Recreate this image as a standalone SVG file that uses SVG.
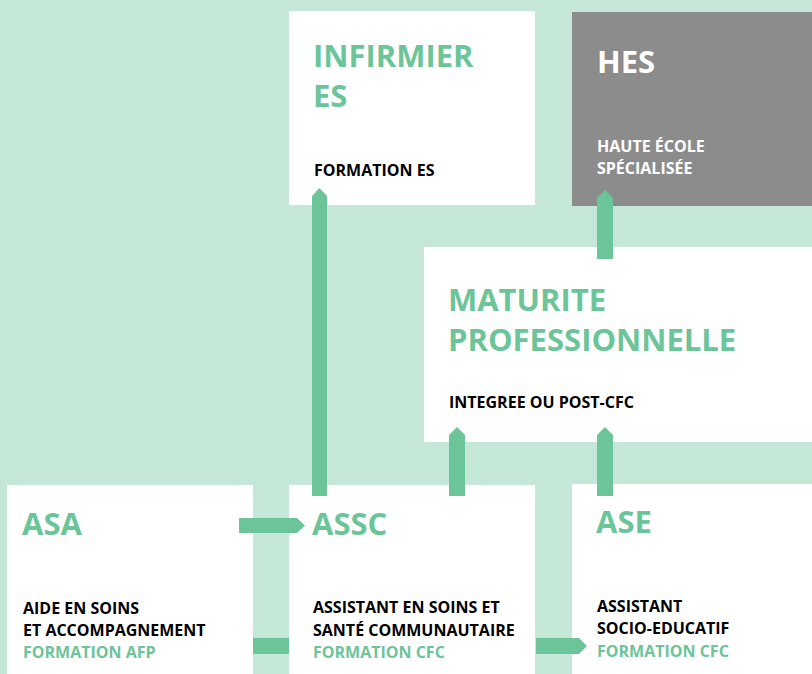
<svg xmlns="http://www.w3.org/2000/svg" width="812" height="674" viewBox="0 0 812 674">
<style>
.bg{fill:#c5e7d7}
.box{fill:#ffffff}
.gray{fill:#8c8c8c}
.con{fill:#6cc499}
text{font-family:"Open Sans","Noto Sans","Liberation Sans",sans-serif;font-weight:700}
.title{font-size:31px;fill:#6cc499}
.titlew{font-size:31px;fill:#ffffff}
.sub{font-size:16px;fill:#000000}
.subg{font-size:16px;fill:#6cc499}
.subw{font-size:16px;fill:#ffffff}
</style>
<rect class="bg" x="0" y="0" width="812" height="674"/>
<g id="infirmier">
<rect class="box" x="289" y="11" width="246" height="194"/>
<text class="title" x="313" y="67">INFIRMIER</text>
<text class="title" x="313" y="107">ES</text>
<text class="sub" x="314" y="176">FORMATION ES</text>
</g>
<g id="hes">
<rect class="gray" x="572" y="12" width="240" height="194"/>
<text class="titlew" x="597" y="73">HES</text>
<text class="subw" x="597" y="152">HAUTE ÉCOLE</text>
<text class="subw" x="597" y="174">SPÉCIALISÉE</text>
</g>
<g id="maturite">
<rect class="box" x="424" y="247" width="388" height="195"/>
<text class="title" x="448" y="311">MATURITE</text>
<text class="title" x="448" y="351">PROFESSIONNELLE</text>
<text class="sub" x="449" y="408">INTEGREE OU POST-CFC</text>
</g>
<g id="asa">
<rect class="box" x="7" y="485" width="246" height="189"/>
<text class="title" x="22" y="535">ASA</text>
<text class="sub" x="23" y="614">AIDE EN SOINS</text>
<text class="sub" x="23" y="636">ET ACCOMPAGNEMENT</text>
<text class="subg" x="23" y="658">FORMATION AFP</text>
</g>
<g id="assc">
<rect class="box" x="289" y="485" width="246" height="189"/>
<text class="title" x="312" y="535">ASSC</text>
<text class="sub" x="313" y="613">ASSISTANT EN SOINS ET</text>
<text class="sub" x="313" y="636">SANTÉ COMMUNAUTAIRE</text>
<text class="subg" x="313" y="658">FORMATION CFC</text>
</g>
<g id="ase">
<rect class="box" x="572" y="484" width="240" height="190"/>
<text class="title" x="596" y="533">ASE</text>
<text class="sub" x="597" y="612">ASSISTANT</text>
<text class="sub" x="597" y="634">SOCIO-EDUCATIF</text>
<text class="subg" x="597" y="657">FORMATION CFC</text>
</g>
<g id="connectors">
<path class="con" d="M239 518 H297 L305 525.5 L297 533 H239 Z"/>
<rect class="con" x="253" y="638" width="36" height="16"/>
<path class="con" d="M536 638 H579 L587 646 L579 654 H536 Z"/>
<path class="con" d="M312 496 V196 L319.5 188 L327 196 V496 Z"/>
<path class="con" d="M449 496 V435 L457 427 L465 435 V496 Z"/>
<path class="con" d="M597 496 V435 L605 427 L613 435 V496 Z"/>
<path class="con" d="M597 259 V198 L605 190 L613 198 V259 Z"/>
</g>
</svg>
